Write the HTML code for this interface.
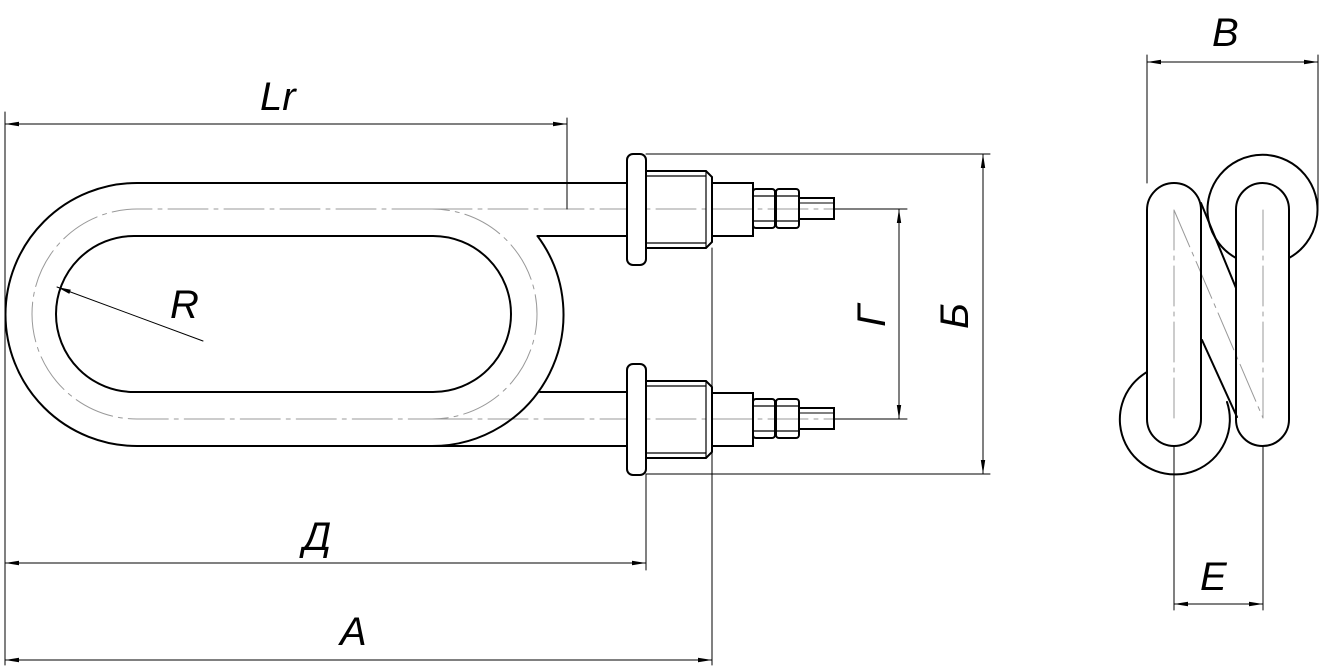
<!DOCTYPE html>
<html><head><meta charset="utf-8"><style>
html,body{margin:0;padding:0;background:#fff;}
svg{display:block;}
.t{font-family:"Liberation Sans",sans-serif;font-style:italic;font-size:40px;fill:#000;}
</style></head><body>
<svg width="1320" height="670" viewBox="0 0 1320 670" xmlns="http://www.w3.org/2000/svg">
<defs>
<marker id="a" viewBox="0 0 14 6" refX="14" refY="3" markerWidth="14" markerHeight="6" markerUnits="userSpaceOnUse" orient="auto-start-reverse"><path d="M0,0.8 L14,3 L0,5.2 Z" fill="#000"/></marker>
</defs>
<g fill="none" stroke-linecap="round">
<g stroke="#999" stroke-width="1" stroke-dasharray="40,6,4,6">
<path d="M432,209 H137 A105,105 0 0 0 137,419 H432 A105,105 0 0 0 432,209"/>
<path d="M432,209 H835 M432,419 H835"/>
<path d="M1174,210 V418 M1263,210 V418 M1174,210 L1263,418"/>
</g>
<g stroke="#000" stroke-width="2">
<path d="M627,183 H137 A131.5,131.5 0 0 0 137,446 H627"/>
<path d="M537.5,236 A131.5,131.5 0 0 1 432,446"/>
<path d="M134,236 H433 A78,78 0 0 1 433,392 H134 A78,78 0 0 1 134,236 Z"/>
<path d="M537.5,236 H627 M540,392 H627"/>
</g>
<g id="f" stroke="#000" stroke-width="2">
<rect x="627" y="154" width="19" height="111" rx="6" fill="#fff"/>
<path d="M646,171 H706 L712,177 V242 L706,248 H646"/>
<path d="M646,176 H706 M646,243 H706 M706,171 V248" stroke-width="1.2"/>
<rect x="712" y="183" width="41" height="53"/>
<rect x="753" y="189" width="22" height="39" rx="3"/>
<rect x="776" y="189" width="23" height="39" rx="3"/>
<path d="M753,196 H799 M753,221 H799" stroke-width="1.2"/>
<path d="M799,198 H834 V219 H799" />
<path d="M799,203 H833" stroke-width="1"/>
</g>
<use href="#f" transform="translate(0,210)"/>
<g stroke="#000" stroke-width="1">
<path d="M5,112 V665"/>
<path d="M567,118 V209"/>
<path d="M5,124 H567" marker-start="url(#a)" marker-end="url(#a)"/>
<path d="M646,474 V570 M712,248 V665"/>
<path d="M5,563 H646" marker-start="url(#a)" marker-end="url(#a)"/>
<path d="M5,660 H712" marker-start="url(#a)" marker-end="url(#a)"/>
<path d="M203,341 L57,287" marker-end="url(#a)"/>
<path d="M835,209 H907 M835,419 H907"/>
<path d="M646,154 H990 M646,474 H990"/>
<path d="M899,209 V419" marker-start="url(#a)" marker-end="url(#a)"/>
<path d="M983,154 V474" marker-start="url(#a)" marker-end="url(#a)"/>
<path d="M1147,55 V183 M1318,55 V210"/>
<path d="M1147,62 H1318" marker-start="url(#a)" marker-end="url(#a)"/>
<path d="M1174,446 V610 M1263,446 V610"/>
<path d="M1174,604 H1263" marker-start="url(#a)" marker-end="url(#a)"/>
</g>
<g stroke="#000" stroke-width="2">
<path d="M1236,258 A55,55 0 1 1 1289,258"/>
<path d="M1147,372 A55,55 0 1 0 1227,402"/>
<rect x="1147" y="183" width="54" height="263" rx="27"/>
<rect x="1236" y="183" width="53" height="263" rx="26.5"/>
<path d="M1201,203 L1236,288 M1202,340 L1237,417"/>
</g>
</g>
<g class="t">
<text x="260" y="110">Lr</text>
<text x="170" y="318">R</text>
<text x="303" y="550">Д</text>
<text x="340" y="645">A</text>
<text x="1212" y="46">B</text>
<text x="1200" y="590">E</text>
<text transform="translate(885,316) rotate(-90)" text-anchor="middle">Г</text>
<text transform="translate(968,316) rotate(-90)" text-anchor="middle">Б</text>
</g>
</svg>
</body></html>
